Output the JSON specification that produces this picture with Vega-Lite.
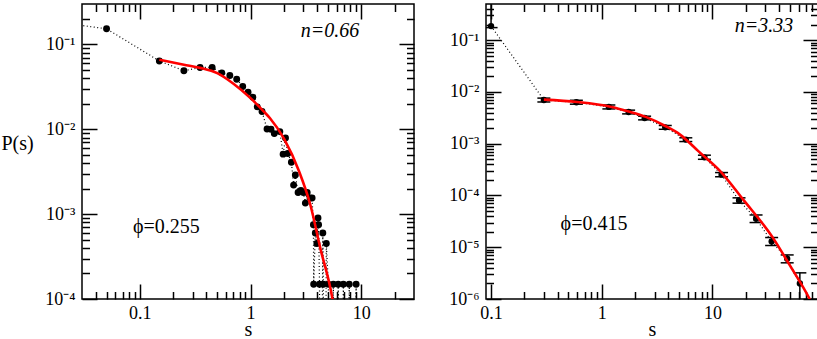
{
  "$schema": "https://vega.github.io/schema/vega-lite/v6.json",
  "padding": {"left": 0, "top": 2, "right": 0, "bottom": 0},
  "background": "white",
  "spacing": 31,
  "config": {
    "view": {"stroke": "black", "strokeWidth": 1.5},
    "axis": {"domain": false, "grid": false, "tickColor": "black", "tickWidth": 1.5, "labelFont": "Liberation Serif, Times New Roman, serif", "labelFontSize": 18, "labelColor": "black", "titleFont": "Liberation Serif, Times New Roman, serif", "titleFontSize": 20, "titleFontWeight": "normal", "titleColor": "black", "labelFlush": false, "labelOverlap": false, "labelBound": false}
  },
  "datasets": {
    "left": [
      {"s": 0.02, "P": 0.18}, {"s": 0.05, "P": 0.153}, {"s": 0.15, "P": 0.064}, {"s": 0.25, "P": 0.049},
      {"s": 0.35, "P": 0.0536}, {"s": 0.45, "P": 0.0536}, {"s": 0.55, "P": 0.0463}, {"s": 0.65, "P": 0.043},
      {"s": 0.75, "P": 0.039}, {"s": 0.85, "P": 0.032}, {"s": 0.95, "P": 0.0274}, {"s": 1.05, "P": 0.0239},
      {"s": 1.15, "P": 0.0184}, {"s": 1.27, "P": 0.0162}, {"s": 1.41, "P": 0.0101}, {"s": 1.53, "P": 0.0100},
      {"s": 1.64, "P": 0.0089}, {"s": 1.84, "P": 0.0094}, {"s": 1.97, "P": 0.0051}, {"s": 2.07, "P": 0.0079},
      {"s": 2.17, "P": 0.0052}, {"s": 2.34, "P": 0.0041}, {"s": 2.45, "P": 0.0022}, {"s": 2.54, "P": 0.0029},
      {"s": 2.69, "P": 0.0018}, {"s": 2.85, "P": 0.0019}, {"s": 3.0, "P": 0.0018}, {"s": 3.13, "P": 0.00135},
      {"s": 3.25, "P": 0.0018}, {"s": 3.45, "P": 0.00155}, {"s": 3.6, "P": 0.00155}, {"s": 3.7, "P": 0.00075},
      {"s": 3.72, "P": 0.000149}, {"s": 3.85, "P": 0.0006}, {"s": 3.98, "P": 0.00045}, {"s": 4.07, "P": 0.0009},
      {"s": 4.12, "P": 0.00075}, {"s": 4.2, "P": 0.000149}, {"s": 4.3, "P": 0.0000001}, {"s": 4.5, "P": 0.0006},
      {"s": 4.55, "P": 0.000149}, {"s": 4.7, "P": 0.0000001}, {"s": 4.84, "P": 0.00045}, {"s": 5.05, "P": 0.000149},
      {"s": 5.3, "P": 0.0000001}, {"s": 5.6, "P": 0.000149}, {"s": 5.9, "P": 0.0000001}, {"s": 6.2, "P": 0.000149},
      {"s": 6.5, "P": 0.0000001}, {"s": 6.9, "P": 0.000149}, {"s": 7.3, "P": 0.0000001}, {"s": 7.8, "P": 0.000149},
      {"s": 8.4, "P": 0.0000001}, {"s": 9.0, "P": 0.000149}, {"s": 9.5, "P": 0.0000001}
    ],
    "leftfit": [
      {"s": 0.15, "P": 0.066}, {"s": 0.25, "P": 0.0577}, {"s": 0.35, "P": 0.053}, {"s": 0.5, "P": 0.0459},
      {"s": 0.706, "P": 0.0342}, {"s": 1.0, "P": 0.0233}, {"s": 1.32, "P": 0.0162}, {"s": 1.5, "P": 0.0135},
      {"s": 2.0, "P": 0.0078}, {"s": 2.75, "P": 0.00318}, {"s": 3.47, "P": 0.00129}, {"s": 4.27, "P": 0.000398},
      {"s": 5.5, "P": 0.0001}, {"s": 6.2, "P": 0.000035}
    ],
    "right": [
      {"s": 0.1, "P": 0.187, "lo": 0.175, "hi": 0.6},
      {"s": 0.3, "P": 0.0070, "lo": 0.0064, "hi": 0.0076},
      {"s": 0.59, "P": 0.00632, "lo": 0.0058, "hi": 0.0069},
      {"s": 1.16, "P": 0.00513, "lo": 0.0047, "hi": 0.0056},
      {"s": 1.75, "P": 0.0041, "lo": 0.00377, "hi": 0.00445},
      {"s": 2.44, "P": 0.00314, "lo": 0.00289, "hi": 0.0034},
      {"s": 3.75, "P": 0.00207, "lo": 0.0019, "hi": 0.00225},
      {"s": 5.75, "P": 0.0012, "lo": 0.0011, "hi": 0.0013},
      {"s": 8.47, "P": 0.000546, "lo": 0.0005, "hi": 0.0006},
      {"s": 12.1, "P": 0.000252, "lo": 0.00023, "hi": 0.000277},
      {"s": 17.4, "P": 0.00008, "lo": 0.000071, "hi": 0.00009},
      {"s": 24.8, "P": 0.0000356, "lo": 0.00003, "hi": 0.000042},
      {"s": 34.3, "P": 0.0000129, "lo": 0.0000108, "hi": 0.0000154},
      {"s": 47.4, "P": 0.000006, "lo": 0.000005, "hi": 0.0000071},
      {"s": 61.7, "P": 0.000002, "lo": 0.0000001, "hi": 0.0000032}
    ],
    "rightfit": [
      {"s": 0.3, "P": 0.0071}, {"s": 0.6, "P": 0.0064}, {"s": 1.2, "P": 0.0052}, {"s": 1.75, "P": 0.0042},
      {"s": 2.5, "P": 0.0033}, {"s": 3.75, "P": 0.0022}, {"s": 5.1, "P": 0.0015}, {"s": 7.5, "P": 0.00071},
      {"s": 11.7, "P": 0.0003}, {"s": 19, "P": 0.000083}, {"s": 35.4, "P": 0.000015}, {"s": 50, "P": 0.0000045},
      {"s": 75.6, "P": 0.000001}, {"s": 85, "P": 0.0000006}
    ],
    "leftn": [{"s": 9.6, "P": 0.146, "label": "n=0.66"}],
    "leftphi": [{"s": 0.0865, "P": 0.00071, "label": "ϕ=0.255"}],
    "rightn": [{"s": 53.7, "P": 0.187, "label": "n=3.33"}],
    "rightphi": [{"s": 0.425, "P": 0.000028, "label": "ϕ=0.415"}]
  },
  "hconcat": [
    {
      "width": 332, "height": 295,
      "resolve": {"axis": {"x": "independent", "y": "independent"}},
      "layer": [
        {
          "data": {"name": "left"},
          "mark": {"type": "line", "color": "black", "strokeWidth": 1.2, "strokeDash": [1, 2.5], "clip": true},
          "encoding": {
            "x": {"field": "s", "type": "quantitative", "scale": {"type": "log", "domain": [0.03, 30], "nice": false},
              "axis": {"orient": "bottom", "values": [0.1, 1, 10], "tickSize": -15, "labelPadding": 20, "labelExpr": "datum.value==0.1?'0.1':datum.value==1?'1':'10'", "title": "s", "titlePadding": -3}},
            "y": {"field": "P", "type": "quantitative", "scale": {"type": "log", "domain": [0.0001, 0.3], "nice": false},
              "axis": {"orient": "left", "values": [0.0001, 0.001, 0.01, 0.1], "tickSize": -15, "labelPadding": 22, "labelExpr": "datum.value==0.1?'10⁻¹':datum.value==0.01?'10⁻²':datum.value==0.001?'10⁻³':'10⁻⁴'", "title": "P(s)", "titleAngle": 0, "titleAlign": "left", "titleBaseline": "middle", "titleX": -81, "titleY": 139}}
          }
        },
        {
          "data": {"name": "left"},
          "mark": {"type": "circle", "color": "black", "opacity": 1, "size": 48, "clip": true},
          "encoding": {
            "x": {"field": "s", "type": "quantitative", "scale": {"type": "log", "domain": [0.03, 30], "nice": false},
              "axis": {"orient": "top", "values": [0.1, 1, 10], "tickSize": -15, "labels": false, "title": null}},
            "y": {"field": "P", "type": "quantitative", "scale": {"type": "log", "domain": [0.0001, 0.3], "nice": false},
              "axis": {"orient": "right", "values": [0.0001, 0.001, 0.01, 0.1], "tickSize": -15, "labels": false, "title": null}}
          }
        },
        {
          "data": {"name": "leftfit"},
          "mark": {"type": "line", "color": "#ff0000", "strokeWidth": 2.6, "interpolate": "monotone", "clip": true},
          "encoding": {
            "x": {"field": "s", "type": "quantitative", "scale": {"type": "log", "domain": [0.03, 30], "nice": false},
              "axis": {"orient": "bottom", "values": [0.04, 0.05, 0.06, 0.07, 0.08, 0.09, 0.2, 0.3, 0.4, 0.5, 0.6, 0.7, 0.8, 0.9, 2, 3, 4, 5, 6, 7, 8, 9, 20], "tickSize": -7.5, "labels": false, "title": null}},
            "y": {"field": "P", "type": "quantitative", "scale": {"type": "log", "domain": [0.0001, 0.3], "nice": false},
              "axis": {"orient": "left", "values": [0.0002, 0.0003, 0.0004, 0.0005, 0.0006, 0.0007, 0.0008, 0.0009, 0.002, 0.003, 0.004, 0.005, 0.006, 0.007, 0.008, 0.009, 0.02, 0.03, 0.04, 0.05, 0.06, 0.07, 0.08, 0.09, 0.2], "tickSize": -7.5, "labels": false, "title": null}}
          }
        },
        {
          "data": {"name": "leftn"},
          "mark": {"type": "text", "font": "Liberation Serif, Times New Roman, serif", "fontSize": 20, "fontStyle": "italic", "align": "right", "baseline": "middle", "color": "black"},
          "encoding": {
            "x": {"field": "s", "type": "quantitative", "scale": {"type": "log", "domain": [0.03, 30], "nice": false},
              "axis": {"orient": "top", "values": [0.04, 0.05, 0.06, 0.07, 0.08, 0.09, 0.2, 0.3, 0.4, 0.5, 0.6, 0.7, 0.8, 0.9, 2, 3, 4, 5, 6, 7, 8, 9, 20], "tickSize": -7.5, "labels": false, "title": null}},
            "y": {"field": "P", "type": "quantitative", "scale": {"type": "log", "domain": [0.0001, 0.3], "nice": false},
              "axis": {"orient": "right", "values": [0.0002, 0.0003, 0.0004, 0.0005, 0.0006, 0.0007, 0.0008, 0.0009, 0.002, 0.003, 0.004, 0.005, 0.006, 0.007, 0.008, 0.009, 0.02, 0.03, 0.04, 0.05, 0.06, 0.07, 0.08, 0.09, 0.2], "tickSize": -7.5, "labels": false, "title": null}},
            "text": {"field": "label"}
          }
        },
        {
          "data": {"name": "leftphi"},
          "mark": {"type": "text", "font": "Liberation Serif, Times New Roman, serif", "fontSize": 20, "align": "left", "baseline": "middle", "color": "black"},
          "encoding": {
            "x": {"field": "s", "type": "quantitative", "scale": {"type": "log", "domain": [0.03, 30], "nice": false}, "axis": null},
            "y": {"field": "P", "type": "quantitative", "scale": {"type": "log", "domain": [0.0001, 0.3], "nice": false}, "axis": null},
            "text": {"field": "label"}
          }
        }
      ]
    },
    {
      "width": 332, "height": 295,
      "resolve": {"axis": {"x": "independent", "y": "independent"}},
      "layer": [
        {
          "data": {"name": "right"},
          "mark": {"type": "line", "color": "black", "strokeWidth": 1.2, "strokeDash": [1, 2.5], "clip": true},
          "encoding": {
            "x": {"field": "s", "type": "quantitative", "scale": {"type": "log", "domain": [0.09, 90], "nice": false},
              "axis": {"orient": "bottom", "values": [0.1, 1, 10], "tickSize": -15, "labelPadding": 20, "labelExpr": "datum.value==0.1?'0.1':datum.value==1?'1':'10'", "title": "s", "titlePadding": -3}},
            "y": {"field": "P", "type": "quantitative", "scale": {"type": "log", "domain": [0.000001, 0.5], "nice": false},
              "axis": {"orient": "left", "values": [0.000001, 0.00001, 0.0001, 0.001, 0.01, 0.1], "tickSize": -15, "labelPadding": 22, "labelExpr": "datum.value==0.1?'10⁻¹':datum.value==0.01?'10⁻²':datum.value==0.001?'10⁻³':datum.value==0.0001?'10⁻⁴':datum.value==0.00001?'10⁻⁵':'10⁻⁶'", "title": null}}
          }
        },
        {
          "data": {"name": "right"},
          "mark": {"type": "circle", "color": "black", "opacity": 1, "size": 40, "clip": true},
          "encoding": {
            "x": {"field": "s", "type": "quantitative", "scale": {"type": "log", "domain": [0.09, 90], "nice": false},
              "axis": {"orient": "top", "values": [0.1, 1, 10], "tickSize": -15, "labels": false, "title": null}},
            "y": {"field": "P", "type": "quantitative", "scale": {"type": "log", "domain": [0.000001, 0.5], "nice": false},
              "axis": {"orient": "right", "values": [0.000001, 0.00001, 0.0001, 0.001, 0.01, 0.1], "tickSize": -15, "labels": false, "title": null}}
          }
        },
        {
          "data": {"name": "right"},
          "mark": {"type": "rule", "color": "black", "strokeWidth": 1.5, "clip": true},
          "encoding": {
            "x": {"field": "s", "type": "quantitative", "scale": {"type": "log", "domain": [0.09, 90], "nice": false},
              "axis": {"orient": "bottom", "values": [0.2, 0.3, 0.4, 0.5, 0.6, 0.7, 0.8, 0.9, 2, 3, 4, 5, 6, 7, 8, 9, 20, 30, 40, 50, 60, 70, 80], "tickSize": -7.5, "labels": false, "title": null}},
            "y": {"field": "lo", "type": "quantitative", "scale": {"type": "log", "domain": [0.000001, 0.5], "nice": false},
              "axis": {"orient": "left", "values": [0.000002, 0.000003, 0.000004, 0.000005, 0.000006, 0.000007, 0.000008, 0.000009, 0.00002, 0.00003, 0.00004, 0.00005, 0.00006, 0.00007, 0.00008, 0.00009, 0.0002, 0.0003, 0.0004, 0.0005, 0.0006, 0.0007, 0.0008, 0.0009, 0.002, 0.003, 0.004, 0.005, 0.006, 0.007, 0.008, 0.009, 0.02, 0.03, 0.04, 0.05, 0.06, 0.07, 0.08, 0.09, 0.2, 0.3, 0.4], "tickSize": -7.5, "labels": false, "title": null}},
            "y2": {"field": "hi"}
          }
        },
        {
          "data": {"name": "right"},
          "mark": {"type": "tick", "orient": "horizontal", "color": "black", "size": 13, "thickness": 1.5, "opacity": 1, "clip": true},
          "encoding": {
            "x": {"field": "s", "type": "quantitative", "scale": {"type": "log", "domain": [0.09, 90], "nice": false},
              "axis": {"orient": "top", "values": [0.2, 0.3, 0.4, 0.5, 0.6, 0.7, 0.8, 0.9, 2, 3, 4, 5, 6, 7, 8, 9, 20, 30, 40, 50, 60, 70, 80], "tickSize": -7.5, "labels": false, "title": null}},
            "y": {"field": "hi", "type": "quantitative", "scale": {"type": "log", "domain": [0.000001, 0.5], "nice": false},
              "axis": {"orient": "right", "values": [0.000002, 0.000003, 0.000004, 0.000005, 0.000006, 0.000007, 0.000008, 0.000009, 0.00002, 0.00003, 0.00004, 0.00005, 0.00006, 0.00007, 0.00008, 0.00009, 0.0002, 0.0003, 0.0004, 0.0005, 0.0006, 0.0007, 0.0008, 0.0009, 0.002, 0.003, 0.004, 0.005, 0.006, 0.007, 0.008, 0.009, 0.02, 0.03, 0.04, 0.05, 0.06, 0.07, 0.08, 0.09, 0.2, 0.3, 0.4], "tickSize": -7.5, "labels": false, "title": null}}
          }
        },
        {
          "data": {"name": "right"},
          "mark": {"type": "tick", "orient": "horizontal", "color": "black", "size": 13, "thickness": 1.5, "opacity": 1, "clip": true},
          "encoding": {
            "x": {"field": "s", "type": "quantitative", "scale": {"type": "log", "domain": [0.09, 90], "nice": false}, "axis": null},
            "y": {"field": "lo", "type": "quantitative", "scale": {"type": "log", "domain": [0.000001, 0.5], "nice": false}, "axis": null}
          }
        },
        {
          "data": {"name": "rightfit"},
          "mark": {"type": "line", "color": "#ff0000", "strokeWidth": 2.6, "interpolate": "monotone", "clip": true},
          "encoding": {
            "x": {"field": "s", "type": "quantitative", "scale": {"type": "log", "domain": [0.09, 90], "nice": false}, "axis": null},
            "y": {"field": "P", "type": "quantitative", "scale": {"type": "log", "domain": [0.000001, 0.5], "nice": false}, "axis": null}
          }
        },
        {
          "data": {"name": "rightn"},
          "mark": {"type": "text", "font": "Liberation Serif, Times New Roman, serif", "fontSize": 20, "fontStyle": "italic", "align": "right", "baseline": "middle", "color": "black"},
          "encoding": {
            "x": {"field": "s", "type": "quantitative", "scale": {"type": "log", "domain": [0.09, 90], "nice": false}, "axis": null},
            "y": {"field": "P", "type": "quantitative", "scale": {"type": "log", "domain": [0.000001, 0.5], "nice": false}, "axis": null},
            "text": {"field": "label"}
          }
        },
        {
          "data": {"name": "rightphi"},
          "mark": {"type": "text", "font": "Liberation Serif, Times New Roman, serif", "fontSize": 20, "align": "left", "baseline": "middle", "color": "black"},
          "encoding": {
            "x": {"field": "s", "type": "quantitative", "scale": {"type": "log", "domain": [0.09, 90], "nice": false}, "axis": null},
            "y": {"field": "P", "type": "quantitative", "scale": {"type": "log", "domain": [0.000001, 0.5], "nice": false}, "axis": null},
            "text": {"field": "label"}
          }
        }
      ]
    }
  ]
}
